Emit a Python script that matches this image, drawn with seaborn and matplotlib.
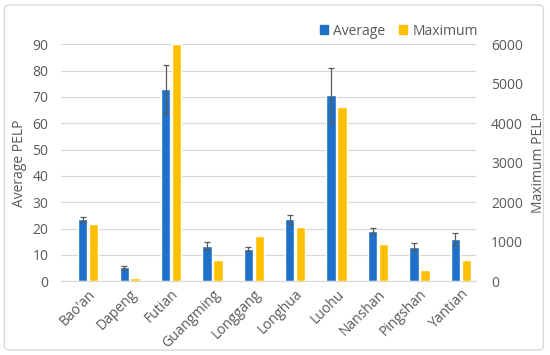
import numpy as np
import pandas as pd
import matplotlib
matplotlib.use("Agg")
import matplotlib.pyplot as plt
import seaborn as sns
from matplotlib.patches import FancyBboxPatch, Patch

districts = ["Bao'an", "Dapeng", "Futian", "Guangming", "Longgang",
             "Longhua", "Luohu", "Nanshan", "Pingshan", "Yantian"]
average = [23.5, 5.2, 73.1, 13.4, 12.2, 23.6, 70.6, 19.0, 12.9, 16.1]
average_err = [1.0, 0.6, 9.2, 1.4, 0.6, 1.7, 10.5, 1.1, 1.5, 2.2]
maximum = [1440, 75, 6000, 535, 1135, 1370, 4420, 940, 280, 545]

blue = "#1F70C8"
yellow = "#FFC000"
grey = "#595959"
fs = 10

sns.set_style("white")
plt.rcParams["font.family"] = ["Open Sans", "DejaVu Sans"]

# long format so hue dodging puts both series side by side,
# each series drawn on its own axis
df_avg = pd.DataFrame({"district": districts * 2,
                       "series": ["Average"] * 10 + ["Maximum"] * 10,
                       "value": average + [np.nan] * 10})
df_max = pd.DataFrame({"district": districts * 2,
                       "series": ["Average"] * 10 + ["Maximum"] * 10,
                       "value": [np.nan] * 10 + maximum})
pal = {"Average": blue, "Maximum": yellow}

fig = plt.figure(figsize=(5.5, 3.55), dpi=100)
ax1 = fig.add_axes([0.111, 0.208, 0.754, 0.667])
ax2 = ax1.twinx()

sns.barplot(data=df_avg, x="district", y="value", hue="series", palette=pal,
            width=0.53, gap=0.15, saturation=1, errorbar=None, legend=False,
            ax=ax1, zorder=2)
sns.barplot(data=df_max, x="district", y="value", hue="series", palette=pal,
            width=0.53, gap=0.15, saturation=1, errorbar=None, legend=False,
            ax=ax2, zorder=2)

# error bars at the centres of the average bars
avg_bars = [p for p in ax1.patches if p.get_height() > 0][:len(districts)]
avg_bars.sort(key=lambda p: p.get_x())
xs = [p.get_x() + p.get_width() / 2 for p in avg_bars]
ax1.errorbar(xs, average, yerr=average_err, fmt="none", ecolor="#5A5A5A",
             elinewidth=0.9, capsize=2, capthick=0.9, zorder=3)

ax1.set_xlim(-0.657, 9.36)
ax1.set_ylim(0, 90)
ax2.set_ylim(0, 6000)
ax1.set_yticks(range(0, 91, 10))
ax2.set_yticks(range(0, 6001, 1000))

ax1.yaxis.grid(True, color="#D9D9D9", linewidth=0.9)
ax1.set_axisbelow(True)
for a in (ax1, ax2):
    for s in a.spines.values():
        s.set_visible(False)
    a.tick_params(length=0, colors=grey, labelsize=fs)
ax1.spines["bottom"].set_visible(True)
ax1.spines["bottom"].set_color("#D9D9D9")

ax1.set_xlabel("")
ax1.set_xticks(range(len(districts)))
ax1.set_xticklabels(districts, rotation=45, ha="right", rotation_mode="anchor")
ax1.tick_params(axis="x", pad=4)
ax1.tick_params(axis="y", pad=9)
ax2.tick_params(axis="y", pad=11)
ax1.set_ylabel("Average PELP", color=grey, fontsize=fs, labelpad=4)
ax2.set_ylabel("Maximum PELP", color=grey, fontsize=fs, labelpad=6)

handles = [Patch(color=blue, label="Average"), Patch(color=yellow, label="Maximum")]
fig.legend(handles=handles, loc="center", bbox_to_anchor=(0.725, 0.912), ncol=2,
           frameon=False, fontsize=fs, handlelength=0.6, handleheight=0.6,
           handletextpad=0.35, columnspacing=1.0, labelcolor=grey)

fig.patches.append(FancyBboxPatch((0.008, 0.014), 0.98, 0.972,
                                  boxstyle="round,pad=0,rounding_size=0.01",
                                  transform=fig.transFigure, fill=False,
                                  edgecolor="#D9D9D9", linewidth=1))

fig.savefig("out.png", dpi=100)
